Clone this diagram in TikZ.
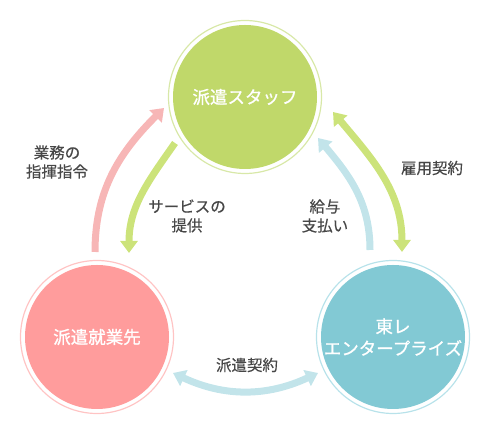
\documentclass[tikz,border=0pt]{standalone}
\usepackage{fontspec}
\setmainfont{Noto Sans CJK JP}
\newfontfamily\rolefont[FakeBold=0.9]{Noto Sans CJK JP}
\newfontfamily\lblfont[FakeBold=0.4]{Noto Sans CJK JP}
\usepackage{tikz}
\usetikzlibrary{arrows.meta}

\definecolor{staffgreen}{HTML}{C0D86A}
\definecolor{staffring}{HTML}{D8E8A8}
\definecolor{clientpink}{HTML}{FF9C9C}
\definecolor{clientring}{HTML}{FFC4C4}
\definecolor{toraysblue}{HTML}{82C9D4}
\definecolor{toraysring}{HTML}{B8E2EA}
\definecolor{pinkflow}{HTML}{F7B6B6}
\definecolor{greenflow}{HTML}{CCE37A}
\definecolor{blueflow}{HTML}{C2E4EA}
\definecolor{labelgray}{HTML}{474747}

\begin{document}
\begin{tikzpicture}[
  x=1pt, y=1pt, >={Triangle[width=17pt,length=12pt]},
  role/.style={circle, minimum size=144pt, inner sep=0pt, text=white,
    font=\rolefont\fontsize{17.5}{22}\selectfont, align=center},
  ring/.style={line width=1.2pt},
  flow/.style={->, line width=7pt},
  lbl/.style={text=labelgray, font=\lblfont\fontsize{15.5}{19}\selectfont, align=center},
]
\useasboundingbox (0,0) rectangle (490,435);
% ---------------- the three parties ----------------
\node[role, fill=staffgreen] (staff) at (245,338) {派遣スタッフ};
\node[role, fill=clientpink] (client) at (97,98) {派遣就業先};
\node[role, fill=toraysblue] (toray) at (393,98) {東レ\\エンタープライズ};
\draw[ring, draw=staffring] (staff.center) circle (76.5);
\draw[ring, draw=clientring] (client.center) circle (76.5);
\draw[ring, draw=toraysring] (toray.center) circle (76.5);
% ---------------- arrow ends ----------------
\coordinate (orderA) at (95,183);
\coordinate (orderB) at (164,327);
\coordinate (serviceA) at (175,292);
\coordinate (serviceB) at (129,182);
\coordinate (hireA) at (333,323);
\coordinate (hireB) at (402,183);
\coordinate (payA) at (370,185);
\coordinate (payB) at (318,297);
\coordinate (dispA) at (173,62);
\coordinate (dispB) at (318,62);
% ---------------- flows ----------------
\draw[flow, draw=pinkflow] (orderA) to[out=90, in=-135] (orderB);
\draw[flow, draw=greenflow] (serviceA) to[out=-125, in=90] (serviceB);
\draw[flow, <->, draw=greenflow] (hireA) to[out=-50, in=90] (hireB);
\draw[flow, draw=blueflow] (payA) to[out=90, in=-50] (payB);
\draw[flow, <->, draw=blueflow] (dispA) to[out=-25, in=-155] (dispB);
% ---------------- labels ----------------
\node[lbl] (orderlbl) at (57,273) {業務の\\指揮指令};
\node[lbl] (servicelbl) at (187,219) {サービスの\\提供};
\node[lbl] (hirelbl) at (432,267) {雇用契約};
\node[lbl] (paylbl) at (325,219) {給与\\支払い};
\node[lbl] (displbl) at (247,70) {派遣契約};
\end{tikzpicture}
\end{document}
